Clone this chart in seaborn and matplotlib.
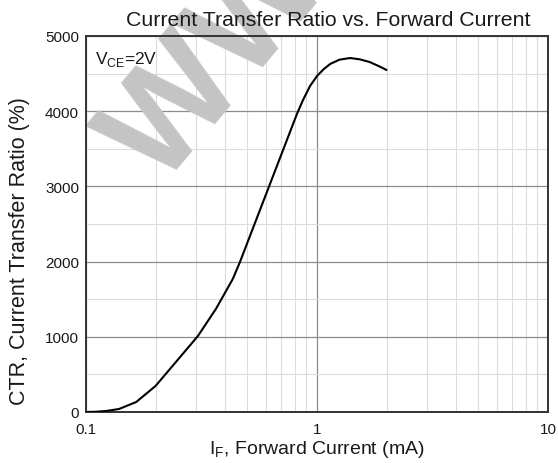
import matplotlib
matplotlib.use("Agg")
import matplotlib.pyplot as plt
import matplotlib.ticker as mticker
import seaborn as sns
import pandas as pd

# Forward current (mA) and current transfer ratio (%)
forward_current = [0.10, 0.11, 0.122, 0.139, 0.165, 0.20, 0.245, 0.305, 0.365, 0.432,
                   0.464, 0.52, 0.606, 0.69, 0.76, 0.818, 0.87, 0.933, 1.0, 1.07,
                   1.14, 1.25, 1.39, 1.53, 1.69, 1.85, 2.0]
ctr = [0, 3, 13, 40, 133, 346, 665, 1010, 1370, 1769,
       1995, 2390, 2920, 3370, 3705, 3960, 4150, 4335, 4468, 4560,
       4628, 4685, 4707, 4690, 4654, 4600, 4548]

x_ticks = [0.1, 1, 10]
x_tick_labels = ["0.1", "1", "10"]
y_ticks = [0, 1000, 2000, 3000, 4000, 5000]

sns.set_theme(style="white")
plt.rcParams["font.family"] = ["Liberation Sans", "DejaVu Sans"]

df = pd.DataFrame({"If": forward_current, "CTR": ctr})

W, H = 558, 464
fig = plt.figure(figsize=(W / 100, H / 100), dpi=100)
ax = fig.add_axes([86 / W, 51 / H, 462 / W, 376 / H])

sns.lineplot(data=df, x="If", y="CTR", ax=ax, color="black", linewidth=1.5,
             sort=False, estimator=None, zorder=5)

ax.set_xscale("log")
ax.set_xlim(0.1, 10)
ax.set_ylim(0, 5000)
ax.xaxis.set_major_locator(mticker.FixedLocator(x_ticks))
ax.xaxis.set_major_formatter(mticker.FixedFormatter(x_tick_labels))
ax.xaxis.set_minor_locator(mticker.LogLocator(base=10, subs=range(2, 10)))
ax.xaxis.set_minor_formatter(mticker.NullFormatter())
ax.yaxis.set_major_locator(mticker.FixedLocator(y_ticks))
ax.yaxis.set_minor_locator(mticker.MultipleLocator(500))

ax.grid(which="major", color="#8c8c8c", linewidth=0.9)
ax.grid(which="minor", color="#dcdcdc", linewidth=0.8)
ax.set_axisbelow(True)
ax.tick_params(which="both", length=0, labelsize=11, colors="#1a1a1a")
ax.tick_params(axis="x", pad=7)
ax.tick_params(axis="y", pad=5)

for side in ["left", "bottom", "right", "top"]:
    ax.spines[side].set_visible(True)
    ax.spines[side].set_color("#333333")
    ax.spines[side].set_linewidth(1.4)

ax.set_title("Current Transfer Ratio vs. Forward Current", fontsize=15.3,
             color="#1a1a1a", x=0.524, y=1.0, pad=8)
ax.set_xlabel(r"I$_\mathregular{F}$, Forward Current (mA)", fontsize=14,
              labelpad=2, color="#1a1a1a")
ax.set_ylabel("CTR, Current Transfer Ratio (%)", fontsize=15.5, labelpad=8,
              color="#1a1a1a")
ax.yaxis.set_label_coords(-0.122, 0.43)

ax.text(0.02, 0.965, r"V$_\mathregular{CE}$=2V", transform=ax.transAxes,
        fontsize=12.5, va="top", ha="left", color="#1a1a1a", zorder=6)

# Diagonal watermark, above the grid and below the curve and labels
ax.text(161 / W, 1 - 189 / H, "WWW", transform=fig.transFigure,
        fontsize=103, fontweight="bold", color="#c4c4c4", rotation=50,
        rotation_mode="anchor", ha="left", va="baseline",
        clip_on=False, zorder=1)

fig.savefig("out.png", dpi=100)
